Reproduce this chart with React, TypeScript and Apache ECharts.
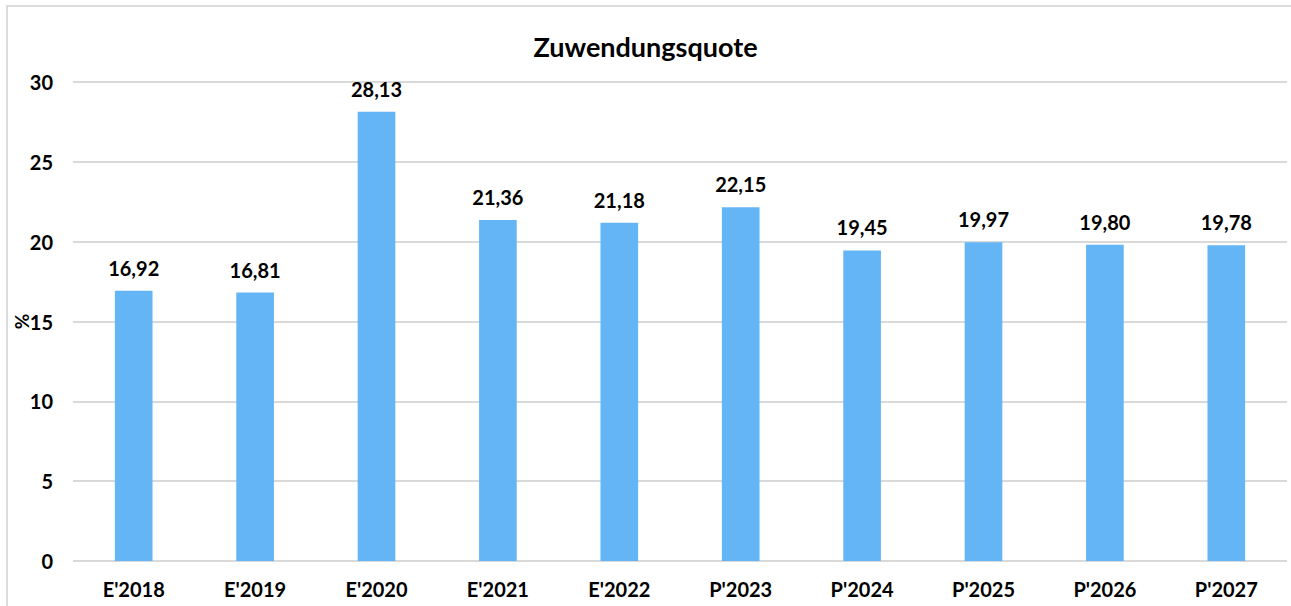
import React, { useEffect, useRef } from "react";
import * as echarts from "echarts";

const categories = ["E'2018", "E'2019", "E'2020", "E'2021", "E'2022", "P'2023", "P'2024", "P'2025", "P'2026", "P'2027"];
const values = [16.92, 16.81, 28.13, 21.36, 21.18, 22.15, 19.45, 19.97, 19.8, 19.78];
const titleText = "Zuwendungsquote";
const yAxisName = "%";

const FONT = "Lato, 'Open Sans', sans-serif";

export default function App() {
  const ref = useRef<HTMLDivElement>(null);
  useEffect(() => {
    if (!ref.current) return;
    const chart = echarts.init(ref.current, undefined, { renderer: "svg" });
    chart.setOption({
      animation: false,
      backgroundColor: "#ffffff",
      textStyle: { fontFamily: FONT },
      title: {
        text: titleText,
        left: "center",
        top: 28,
        textStyle: { fontFamily: FONT, fontWeight: "bold", fontSize: 27, color: "#000" },
      },
      grid: { left: 73, right: 4, top: 82, bottom: 45, containLabel: false, outerBoundsMode: "none" },
      xAxis: {
        type: "category",
        data: categories,
        axisLine: { show: false },
        axisTick: { show: false },
        axisLabel: { fontFamily: FONT, fontWeight: "bold", fontSize: 20, color: "#000", margin: 18 },
      },
      yAxis: {
        type: "value",
        min: 0,
        max: 30,
        interval: 5,
        name: yAxisName,
        nameLocation: "middle",
        nameRotate: 90,
        nameGap: 42,
        nameMoveOverlap: false,
        nameTextStyle: { fontFamily: FONT, fontWeight: "bold", fontSize: 19, color: "#000" },
        axisLine: { show: false },
        axisTick: { show: false },
        splitLine: { lineStyle: { color: "#D9D9D9", width: 2 } },
        axisLabel: { fontFamily: FONT, fontWeight: "bold", fontSize: 20, color: "#000", margin: 20 },
      },
      series: [
        {
          type: "bar",
          data: values,
          barWidth: "31%",
          itemStyle: { color: "#64B5F6" },
          label: {
            show: true,
            position: "top",
            distance: 13,
            fontFamily: FONT,
            fontWeight: "bold",
            fontSize: 20,
            color: "#000",
            formatter: (p: any) => Number(p.value).toFixed(2).replace(".", ","),
          },
        },
      ],
    });
    return () => chart.dispose();
  }, []);
  return (
    <div style={{ position: "absolute", left: 0, top: 0, width: 1291, height: 606, overflow: "hidden", background: "#fff" }}>
      <div ref={ref} style={{ position: "absolute", left: 0, top: 0, width: 1291, height: 606 }} />
      <div
        style={{
          position: "absolute",
          left: 6,
          top: 5,
          width: 1400,
          height: 700,
          borderLeft: "2px solid #DCDCDC",
          borderTop: "2px solid #DCDCDC",
          pointerEvents: "none",
        }}
      />
    </div>
  );
}
